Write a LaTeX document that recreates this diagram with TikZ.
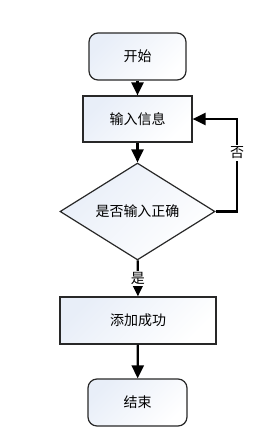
\documentclass[tikz,border=0pt]{standalone}
\usepackage{fontspec}
\setmainfont{Noto Sans CJK SC}
\usetikzlibrary{shapes.geometric,arrows.meta}
\definecolor{fillc}{RGB}{232,238,248}
\definecolor{edgec}{RGB}{40,40,40}
\begin{document}
\begin{tikzpicture}[x=1pt,y=-1pt,
  font=\fontsize{14}{16}\selectfont,
  shapebase/.style={draw=edgec, line width=1.2pt, top color=fillc, bottom color=white, shading angle=45, inner sep=0pt},
  term/.style={shapebase, rectangle, rounded corners=9pt, minimum width=97pt, minimum height=47pt},
  proc/.style={shapebase, rectangle, minimum height=46pt},
  dec/.style={shapebase, diamond, minimum width=155pt, minimum height=67pt},
  arr/.style={draw=black, line width=2.2pt, -{Triangle[length=13pt,width=12pt]}},
  lbl/.style={fill=white, inner sep=1.5pt}
]
\useasboundingbox (0,0) rectangle (272,437);
\node[term] (start) at (137.5,56.5) {开始};
\node[proc, minimum width=109pt] (input) at (137.5,119) {输入信息};
\node[dec] (check) at (137.5,211.5) {是否输入正确};
\node[proc, minimum width=156pt, minimum height=47pt] (ok) at (138,320.5) {添加成功};
\node[term, minimum width=99pt] (end) at (137.5,402.5) {结束};
\coordinate (loop) at (237,119);
\draw[arr] (start) -- (input);
\draw[arr] (input) -- (check);
\draw[arr] (check) -- node[lbl, pos=0.5] (yes) {是} (ok);
\draw[arr] (check.east) -| (loop) -- (input.east);
\node[lbl] (no) at (237,153) {否};
\draw[arr] (ok) -- (end);
\end{tikzpicture}
\end{document}
